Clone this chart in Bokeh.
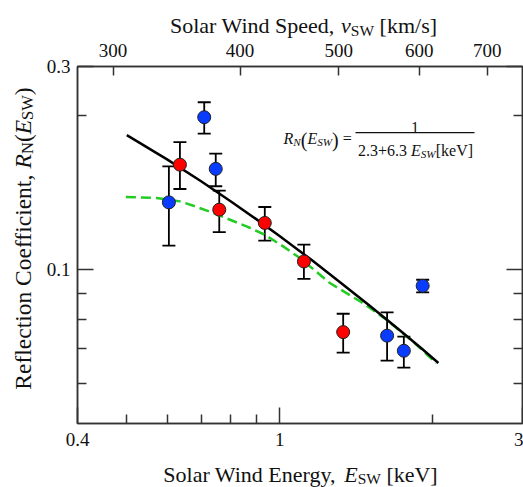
import math
from bokeh.plotting import figure
from bokeh.models import (ColumnDataSource, Whisker, TeeHead, LogAxis, Range1d, LogScale,
                          FixedTicker, Label, BoxAnnotation, PrintfTickFormatter)
from bokeh.embed import file_html
from bokeh.resources import INLINE

# ---------------- data ----------------
red_energy = [0.636, 0.760, 0.934, 1.115, 1.332]
red_refl = [0.1606, 0.1311, 0.1235, 0.1038, 0.0755]
red_low = [0.1439, 0.1185, 0.1140, 0.0960, 0.0688]
red_high = [0.1777, 0.1428, 0.1327, 0.1120, 0.0820]

blue_energy = [0.605, 0.710, 0.748, 1.625, 1.753, 1.909]
blue_refl = [0.1355, 0.1989, 0.1576, 0.0743, 0.0694, 0.0930]
blue_low = [0.1115, 0.1848, 0.1457, 0.0664, 0.0643, 0.0903]
blue_high = [0.1594, 0.2128, 0.1688, 0.0825, 0.0740, 0.0956]

fit_energy = [0.5, 0.6, 0.7, 0.8, 0.9, 1.0, 1.15, 1.3, 1.5, 1.7, 1.9, 2.05]
fit_refl = [0.1835, 0.1645, 0.1490, 0.1362, 0.1255, 0.1163, 0.1048, 0.0953, 0.0851, 0.0769, 0.0701, 0.0657]

model_energy = [0.498, 0.572, 0.636, 0.681, 0.739, 0.860, 0.934, 1.015, 1.095, 1.254, 1.458, 1.621, 1.828, 2.033]
model_refl = [0.1388, 0.1382, 0.1361, 0.1331, 0.1292, 0.1216, 0.1171, 0.1111, 0.1054, 0.0942, 0.0860, 0.0798, 0.0723, 0.0656]

x_major = [0.4, 1.0, 3.0]
x_minor = [0.5, 0.6, 0.7, 0.8, 0.9, 2.0]
y_major = [0.1, 0.25]
y_minor = [0.06, 0.07, 0.08, 0.09, 0.2]
y_labels = {0.1: "0.1", 0.25: "0.3"}
v_ticks = [300, 400, 500, 600, 700]
V_PER_SQRT_KEV = 437.7  # proton speed (km/s) for 1 keV

X_START, X_END = 0.4, 3.0
Y_START, Y_END = 0.05, 0.25

FONT = "Liberation Serif"
AXIS_COLOR = "#333333"
TEXT_COLOR = "#111111"
CW, CH = 523, 487

p = figure(frame_width=445, frame_height=357, x_axis_type="log", y_axis_type="log",
           x_range=Range1d(X_START, X_END), y_range=Range1d(Y_START, Y_END),
           output_backend="svg", toolbar_location=None,
           min_border_left=77, min_border_right=1, min_border_top=66, min_border_bottom=64)
p.xgrid.visible = False
p.ygrid.visible = False
p.outline_line_color = AXIS_COLOR
p.outline_line_width = 1.5
p.background_fill_color = "white"
p.border_fill_color = "white"

def style_axis(ax, major_in=16, minor_in=9):
    ax.axis_line_color = AXIS_COLOR
    ax.axis_line_width = 1.5
    ax.major_tick_line_color = AXIS_COLOR
    ax.minor_tick_line_color = AXIS_COLOR
    ax.major_tick_line_width = 1.5
    ax.minor_tick_line_width = 1.5
    ax.major_tick_in = major_in
    ax.major_tick_out = 0
    ax.minor_tick_in = minor_in
    ax.minor_tick_out = 0
    ax.major_label_text_font = FONT
    ax.major_label_text_font_size = "19px"
    ax.major_label_text_color = TEXT_COLOR

xax = p.xaxis[0]
style_axis(xax)
xax.ticker = FixedTicker(ticks=x_major, minor_ticks=x_minor)
xax.formatter = PrintfTickFormatter(format="%g")
xax.major_label_standoff = 9

yax = p.yaxis[0]
style_axis(yax)
yax.ticker = FixedTicker(ticks=y_major, minor_ticks=y_minor)
yax.major_label_overrides = y_labels
yax.major_label_standoff = 7

p.extra_x_ranges = {"v": Range1d(V_PER_SQRT_KEV * math.sqrt(X_START), V_PER_SQRT_KEV * math.sqrt(X_END))}
p.extra_x_scales = {"v": LogScale()}
top = LogAxis(x_range_name="v", ticker=FixedTicker(ticks=v_ticks, minor_ticks=[]),
              formatter=PrintfTickFormatter(format="%d"))
style_axis(top, major_in=9, minor_in=0)
top.major_label_standoff = 10
p.add_layout(top, "above")

right = LogAxis(ticker=FixedTicker(ticks=y_major, minor_ticks=y_minor),
                major_label_overrides={k: "" for k in y_major})
style_axis(right)
right.major_label_standoff = 0
p.add_layout(right, "right")

# ---------------- curves ----------------
p.line(model_energy, model_refl, line_color="#22cc22", line_width=2.5, line_dash="10 5")
p.line(fit_energy, fit_refl, line_color="black", line_width=2.5)

def points(E, R, lo, hi, color):
    src = ColumnDataSource(dict(E=E, R=R, lo=lo, hi=hi))
    w = Whisker(base="E", upper="hi", lower="lo", source=src, dimension="height",
                line_color="black", line_width=1.8,
                upper_head=TeeHead(size=13, line_width=1.8, line_color="black"),
                lower_head=TeeHead(size=13, line_width=1.8, line_color="black"))
    p.add_layout(w)
    p.scatter("E", "R", source=src, size=13, fill_color=color, line_color="#202020", line_width=1)

points(blue_energy, blue_refl, blue_low, blue_high, "#0a3cff")
points(red_energy, red_refl, red_low, red_high, "#ff0000")

# ---------------- transparent overlay canvas (separate root) for the axis titles ----------------
ov = figure(width=CW, height=CH, x_range=Range1d(0, CW), y_range=Range1d(0, CH),
            x_axis_location=None, y_axis_location=None, min_border=0,
            min_border_left=0, min_border_right=0, min_border_top=0, min_border_bottom=0,
            output_backend="svg", toolbar_location=None)
ov.xgrid.visible = False
ov.ygrid.visible = False
ov.outline_line_color = None
ov.background_fill_color = None
ov.border_fill_color = None
ov.styles = {"position": "absolute", "top": "0px", "left": "0px"}

# ---------------- rich text helpers ----------------
W = {' ': 250, ',': 250, '.': 250, '(': 333, ')': 333, '[': 333, ']': 333, '/': 278, '+': 564,
     '=': 564, 'S': 556, 'W': 944, 'E': 611, 'R': 667, 'C': 667, 'V': 722, 'N': 722,
     'a': 444, 'c': 444, 'd': 500, 'e': 444, 'f': 333, 'g': 500, 'i': 278, 'k': 500, 'l': 278,
     'm': 778, 'n': 500, 'o': 500, 'p': 500, 'r': 333, 's': 389, 't': 278, 'y': 500, 'v': 500}
WI = {'E': 611, 'R': 611, 'N': 667, 'S': 500, 'W': 833, 'v': 444}

def tw(s, size, italic=False):
    tab = WI if italic else W
    return sum(tab.get(c, W.get(c, 500)) for c in s) / 1000.0 * size

def put(fig, ox, oy, text, cx, cy, size, italic=False, align="left", angle=0.0):
    # (cx, cy): canvas pixels from top-left; (ox, oy): canvas position of the figure frame's bottom-left
    fig.add_layout(Label(x=cx - ox, y=oy - cy, x_units="screen", y_units="screen",
                         text=text, text_font=FONT, text_font_size=f"{size}px",
                         text_font_style="italic" if italic else "normal",
                         text_align=align, text_baseline="alphabetic", angle=angle,
                         text_color=TEXT_COLOR))

def hseq(fig, ox, oy, pieces, x0, base):
    x = x0
    for text, size, italic, dy in pieces:
        lead = len(text) - len(text.lstrip(" "))
        core = text.strip(" ")
        put(fig, ox, oy, core, x + tw(" " * lead, size), base + dy, size, italic)
        x += tw(text, size, italic)
    return x

def hwidth(pieces):
    return sum(tw(t, s, i) for t, s, i, _ in pieces)

T, S = 22, 15.5
bottom_title = [("Solar Wind Energy, ", T, False, 0), ("E", T, True, 0), ("SW", S, False, 4.5), (" [keV]", T, False, 0)]
top_title = [("Solar Wind Speed, ", T, False, 0), ("v", T, True, 0), ("SW", S, False, 5), (" [km/s]", T, False, 0)]
hseq(ov, 0, CH, bottom_title, 300 - hwidth(bottom_title) / 2, 473.5)
hseq(ov, 0, CH, top_title, 303 - hwidth(top_title) / 2, 25)

TY, SY = 23.5, 16.5
y_title = [("Reflection Coefficient, ", TY, False, 0), ("R", TY, True, 0), ("N", SY, False, 5),
           ("(", TY, False, 0), ("E", TY, True, 0), ("SW", SY, False, 5), (")", TY, False, 0)]
yy = 238 + hwidth(y_title) / 2
for text, size, italic, dy in y_title:
    put(ov, 0, CH, text.strip(" "), 22 + dy, yy, size, italic, angle=math.pi / 2)
    yy -= tw(text, size, italic)

# ---------------- equation (inside the plot frame) ----------------
FRAME_L, FRAME_B = 77, 423
E1, E2, EP = 16, 11.2, 20
hseq(p, FRAME_L, FRAME_B,
     [("R", E1, True, 0), ("N", E2, True, 3.5), ("(", EP, False, 2), ("E", E1, True, 0),
      ("SW", E2, True, 3.5), (")", EP, False, 2), (" =", E1, False, 0)], 283, 137.5)
p.add_layout(BoxAnnotation(left=355 - FRAME_L, right=474 - FRAME_L,
                           top=FRAME_B - 131.6, bottom=FRAME_B - 132.8,
                           left_units="screen", right_units="screen",
                           top_units="screen", bottom_units="screen",
                           fill_color=TEXT_COLOR, fill_alpha=1.0, line_color=None))
put(p, FRAME_L, FRAME_B, "1", 414.5, 127, E1, align="center")
denom = [("2.3+6.3 ", E1, False, 0), ("E", E1, True, 0), ("SW", E2, True, 3.5), ("[keV]", E1, False, 0)]
hseq(p, FRAME_L, FRAME_B, denom, 415 - hwidth(denom) / 2, 150)

open("out.html", "w").write(file_html([p, ov], INLINE))
